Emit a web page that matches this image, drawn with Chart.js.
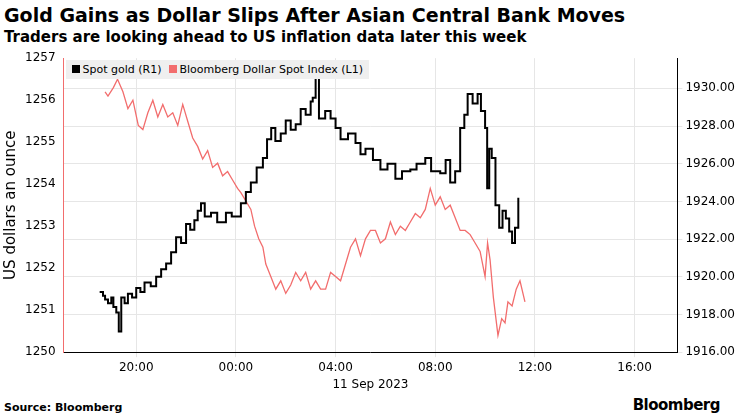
<!DOCTYPE html>
<html><head><meta charset="utf-8">
<script src="https://cdn.jsdelivr.net/npm/chart.js@4"></script>
<style>
body{margin:0;background:#fff;font-family:"DejaVu Sans",sans-serif;}
#wrap{position:relative;width:740px;height:416px;}
h1{position:absolute;left:4px;top:4px;margin:0;font-size:19px;font-weight:bold;color:#000;}
h2{position:absolute;left:4px;top:28px;margin:0;font-size:15px;font-weight:bold;color:#000;}
#src{position:absolute;left:4px;top:401px;font-size:11px;font-weight:bold;}
#logo{position:absolute;right:20px;top:396px;font-size:15px;font-weight:bold;letter-spacing:-0.5px;}
#cv{position:absolute;left:0;top:48px;}
#legend{position:absolute;left:60px;top:52px;background:#efefef;padding:3px 6px;font-size:11px;color:#000;}
#legend span.b{display:inline-block;width:8px;height:8px;margin-right:3px;}
</style></head><body>
<div id="wrap">
<h1>Gold Gains as Dollar Slips After Asian Central Bank Moves</h1>
<h2>Traders are looking ahead to US inflation data later this week</h2>
<canvas id="cv" width="740" height="348"></canvas>
<div id="legend"></div>
<div id="src">Source: Bloomberg</div>
<div id="logo">Bloomberg</div>
</div>
<script>
// times relative to 11 Sep 00:00 (17:00-23:59 = previous evening)
const goldTimes = ['18:32','18:40','18:45','18:52','19:00','19:05','19:12','19:18','19:24','19:32','19:40','19:50','20:00','20:10','20:20','20:35','20:48','21:00','21:12','21:24','21:36','21:48','22:00','22:10','22:20','22:28','22:36','22:45','23:00','23:15','23:36','23:50','00:12','00:24','00:36','00:50','01:05','01:15','01:25','01:35','01:48','02:00','02:12','02:24','02:36','02:48','03:00','03:05','03:12','03:20','03:35','03:48','04:00','04:12','04:30','04:48','05:00','05:12','05:30','05:48','06:05','06:24','06:40','07:00','07:15','07:36','07:50','08:12','08:25','08:36','08:48','09:00','09:10','09:18','09:30','09:42','09:50','10:00','10:05','10:10','10:16','10:25','10:34','10:42','10:50','10:58','11:05','11:12','11:20'];
const goldValues = [1919.2,1919.0,1918.8,1918.6,1918.9,1918.4,1918.1,1917.1,1918.9,1918.6,1919.1,1918.9,1919.4,1919.2,1919.7,1919.5,1920.0,1920.4,1920.7,1921.3,1922.1,1921.8,1922.8,1922.5,1923.0,1923.5,1923.9,1923.2,1923.4,1922.9,1923.4,1923.2,1923.9,1924.5,1925.0,1925.8,1926.3,1927.3,1927.9,1927.2,1927.6,1928.3,1927.8,1928.1,1928.9,1928.6,1929.3,1929.5,1930.6,1928.4,1928.8,1928.4,1927.9,1927.3,1927.6,1927.1,1926.5,1926.8,1926.2,1925.7,1926.0,1925.2,1925.6,1925.7,1926.0,1926.3,1925.6,1925.5,1926.2,1925.0,1925.6,1927.9,1928.6,1929.7,1929.2,1929.7,1928.8,1927.9,1924.7,1926.8,1926.3,1923.8,1922.6,1923.5,1923.1,1922.4,1921.8,1922.6,1924.2];
const dollarTimes = ['18:45','18:52','19:05','19:15','19:28','19:40','19:52','20:05','20:16','20:28','20:40','20:52','21:04','21:16','21:28','21:40','21:52','22:04','22:16','22:28','22:40','22:52','23:04','23:16','23:28','23:40','23:52','00:04','00:12','00:24','00:36','00:45','00:55','01:05','01:12','01:24','01:36','01:48','02:00','02:12','02:24','02:36','02:48','03:00','03:12','03:24','03:36','03:48','04:00','04:12','04:24','04:36','04:48','05:00','05:12','05:24','05:36','05:48','06:00','06:12','06:24','06:36','06:48','07:00','07:12','07:24','07:36','07:48','08:00','08:12','08:24','08:36','08:48','09:00','09:12','09:24','09:36','09:48','10:00','10:06','10:12','10:20','10:31','10:40','10:48','10:55','11:05','11:15','11:24','11:36'];
const dollarValues = [1256.2,1256.1,1256.3,1256.5,1256.2,1255.8,1256.0,1255.4,1255.3,1255.7,1256.0,1255.6,1255.9,1255.6,1255.7,1255.4,1255.9,1255.5,1255.1,1254.9,1254.6,1254.8,1254.4,1254.5,1254.2,1254.3,1254.1,1253.9,1253.8,1253.6,1253.4,1253.0,1252.7,1252.5,1252.1,1251.8,1251.5,1251.7,1251.4,1251.6,1251.9,1251.7,1251.9,1251.5,1251.7,1251.5,1251.5,1251.9,1251.8,1251.7,1252.1,1252.5,1252.7,1252.3,1252.7,1252.9,1252.9,1252.6,1252.7,1253.1,1252.8,1253.0,1252.9,1253.1,1253.3,1253.2,1253.4,1253.9,1253.5,1253.7,1253.4,1253.5,1253.2,1252.9,1252.9,1252.8,1252.6,1252.4,1251.8,1252.6,1252.2,1251.3,1250.4,1250.8,1250.7,1251.2,1251.1,1251.5,1251.7,1251.2];
const xTickLabels = ['20:00','00:00','04:00','08:00','12:00','16:00'];

const toMin = t => { const [h, m] = t.split(':').map(Number); return h >= 17 ? (h - 24) * 60 + m : h * 60 + m; };
const goldData = goldTimes.map((t, i) => ({ x: toMin(t), y: goldValues[i] }));
const dollarData = dollarTimes.map((t, i) => ({ x: toMin(t), y: dollarValues[i] }));
const tickMins = xTickLabels.map(toMin);

const chart = new Chart(document.getElementById('cv'), {
	type: 'line',
	data: {
		datasets: [
			{ label: 'Spot gold (R1)', data: goldData, yAxisID: 'yR', borderColor: '#000', backgroundColor: '#000', borderWidth: 2, pointRadius: 0, stepped: true },
			{ label: 'Bloomberg Dollar Spot Index (L1)', data: dollarData, yAxisID: 'yL', borderColor: '#f26d6d', backgroundColor: '#f26d6d', borderWidth: 1.3, pointRadius: 0, tension: 0 }
		]
	},
	options: {
		responsive: false, animation: false,
		layout: { padding: { left: 0, right: 2, top: 8, bottom: 0 } },
		plugins: { legend: { display: false }, tooltip: { enabled: false } },
		scales: {
			x: {
				type: 'linear', min: -415, max: 1063,
				afterBuildTicks: s => { s.ticks = tickMins.map(v => ({ value: v })); },
				ticks: { callback: (v, i) => xTickLabels[i], color: '#000', font: { size: 12, family: 'DejaVu Sans' }, maxRotation: 0 },
				grid: { color: '#e6e6e6', drawTicks: true, tickLength: 5 },
				border: { color: '#000' },
				title: { display: true, text: '11 Sep 2023', color: '#000', font: { size: 12, family: 'DejaVu Sans' }, padding: { top: 0 } }
			},
			yL: {
				position: 'left', min: 1250, max: 1257,
				ticks: { stepSize: 1, callback: v => String(v), color: '#000', font: { size: 12, family: 'DejaVu Sans' } },
				grid: { display: false, tickLength: 5, drawTicks: true },
				border: { color: '#f26d6d' },
				title: { display: true, text: 'US dollars an ounce', color: '#000', font: { size: 15, family: 'DejaVu Sans' }, padding: 2 }
			},
			yR: {
				position: 'right', min: 1916, max: 1931.6,
				afterBuildTicks: s => { s.ticks = [1916, 1918, 1920, 1922, 1924, 1926, 1928, 1930].map(v => ({ value: v })); },
				ticks: { callback: v => v.toFixed(2), color: '#000', font: { size: 12, family: 'DejaVu Sans' } },
				grid: { color: '#e6e6e6', tickLength: 5 },
				border: { color: '#000' }
			}
		}
	}
});

const legend = document.getElementById('legend');
legend.style.left = (chart.chartArea.left + 2) + 'px';
legend.style.top = (48 + chart.chartArea.top + 2) + 'px';
legend.innerHTML = chart.data.datasets.map(d =>
	`<span class="b" style="background:${d.borderColor}"></span>${d.label}`).join('&nbsp;&nbsp;');
</script>
</body></html>
